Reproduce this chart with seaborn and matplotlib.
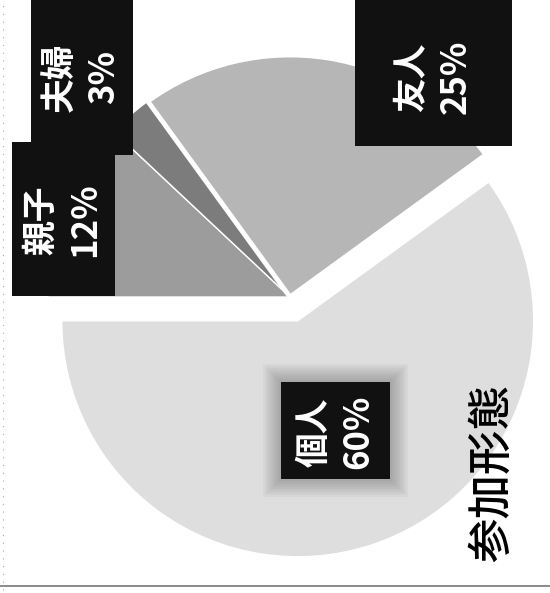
import matplotlib
matplotlib.use("Agg")
import matplotlib.pyplot as plt
from matplotlib.patches import Rectangle
import seaborn as sns

# ---- data ----
categories = ["親子", "夫婦", "友人", "個人"]
shares = [12, 3, 25, 60]
pct_labels = ["12%", "3%", "25%", "60%"]
title = "参加形態"

sns.set_theme(style="white")
plt.rcParams["font.family"] = ["Noto Sans CJK JP", "DejaVu Sans"]

colors = sns.color_palette(["#9c9c9c", "#7c7c7c", "#b6b6b6", "#dedede"])

W, H = 550, 593
fig = plt.figure(figsize=(W / 100, H / 100), dpi=100)
ax = fig.add_axes([0, 0, 1, 1])

center = (290, H - 297)
radius = 242
explode = [0, 0, 0, 25]

wedges, _ = ax.pie(shares, colors=colors, startangle=180, counterclock=False,
                   center=center, radius=radius, explode=explode,
                   wedgeprops=dict(edgecolor="white", linewidth=1.0))
wedges[2].set_linewidth(3.5)
wedges[3].set_radius(236)

ax.set_xlim(0, W)
ax.set_ylim(0, H)
ax.set_aspect("equal")
ax.axis("off")

# label boxes (x0, y0, w, h) and text centres, in pixel layout coordinates
boxes = {
    "友人": ((355, 447, 157, 160), (434, 516)),
    "夫婦": ((31, 438, 102, 165), (82, 516)),
    "親子": ((12, 297, 103, 154), (63, 373)),
    "個人": ((281, 114, 109, 97), (336, 161)),
}

# soft halo around the 個人 box
(bx, by, bw, bh), _ = boxes["個人"]
for k in range(18, 0, -2):
    ax.add_patch(Rectangle((bx - k, by - k), bw + 2 * k, bh + 2 * k,
                           facecolor="#444444", edgecolor="none", alpha=0.045,
                           zorder=3))

for cat, pct in zip(categories, pct_labels):
    (x0, y0, w, h), (tx, ty) = boxes[cat]
    ax.add_patch(Rectangle((x0, y0), w, h, facecolor="#111111",
                           edgecolor="none", zorder=4))
    ax.text(tx, ty, f"{cat}\n{pct}", rotation=90, ha="center", va="center",
            multialignment="center", color="white", fontsize=25,
            fontweight="bold", linespacing=1.3, zorder=5)

ax.text(492, H - 473, title, rotation=90, ha="center", va="center",
        color="black", fontsize=32, fontweight="medium", zorder=5)

# scan border lines
ax.plot([0, W], [H - 586, H - 586], color="#777777", linewidth=1.2, zorder=6)
ax.plot([3, 3], [H - 590, H - 0], color="#aaaaaa", linewidth=0.8,
        linestyle=(0, (1, 6)), zorder=6)

fig.savefig("out.png", dpi=100)
